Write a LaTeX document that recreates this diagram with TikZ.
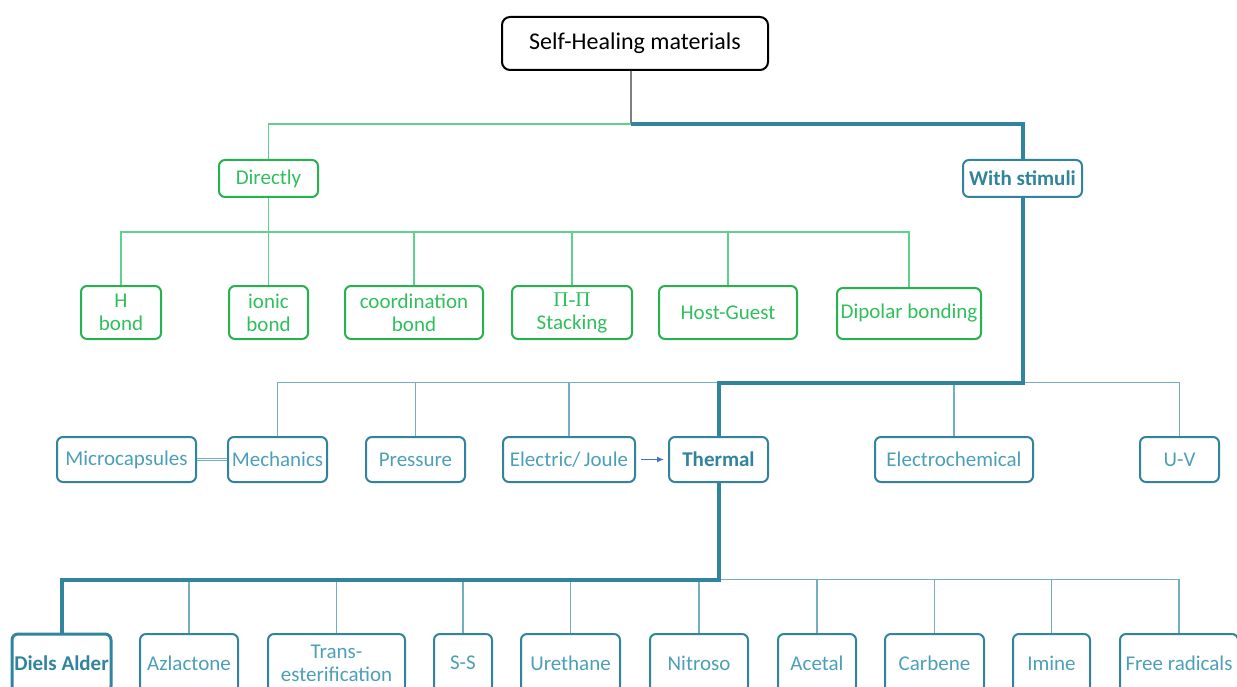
\documentclass[tikz,border=0pt]{standalone}
\usepackage{fontspec}
\setmainfont{Carlito}
\newfontfamily\pifont{Liberation Serif}
\usetikzlibrary{arrows.meta}
\definecolor{gborder}{HTML}{25B24F}
\definecolor{gtext}{HTML}{2FBF5B}
\definecolor{gline}{HTML}{5ED18A}
\definecolor{bborder}{HTML}{31849B}
\definecolor{btext}{HTML}{4C9FB8}
\definecolor{bline}{HTML}{72AFC3}
\definecolor{arrblue}{HTML}{4472C4}
\definecolor{grayline}{HTML}{7F7F7F}
\tikzset{
  basebox/.style={rounded corners=6pt, line width=2pt, inner sep=1pt, align=center,
    font=\fontsize{21}{23}\selectfont},
  titlebox/.style={basebox, draw=black, rounded corners=8pt, font=\fontsize{24}{28}\selectfont, text=black},
  gbox/.style={basebox, draw=gborder, text=gtext},
  bbox/.style={basebox, draw=bborder, text=btext},
  bboldbox/.style={basebox, draw=bborder, text=bborder, font=\fontsize{21}{23}\selectfont\bfseries},
  glink/.style={draw=gline, line width=1.4pt},
  blink/.style={draw=bline, line width=1.4pt},
  bthick/.style={draw=bborder, line width=4pt},
  graylink/.style={draw=grayline, line width=1.6pt},
}
\begin{document}
\begin{tikzpicture}[x=1pt,y=-1pt]
\useasboundingbox (0,0) rectangle (1237,687);
\clip (0,0) rectangle (1237,687);
% nodes
\node[titlebox, minimum width=266, minimum height=53] (top) at (635,43.5) {\raisebox{-2pt}{Self-Healing materials}};
\node[gbox, minimum width=99, minimum height=37] (dir) at (268.5,178.5) {Directly};
\node[bboldbox, minimum width=119, minimum height=37] (ws) at (1022.5,178.5) {With stimuli};
% green row
\node[gbox, minimum width=80, minimum height=53] (hb) at (121,312.5) {H\\bond};
\node[gbox, minimum width=79, minimum height=53] (ib) at (268.5,312.5) {ionic\\bond};
\node[gbox, minimum width=138, minimum height=53] (cb) at (414,312.5) {coordination\\bond};
\node[gbox, minimum width=120, minimum height=53] (pp) at (572,312.5) {{\pifont Π-Π}\\Stacking};
\node[gbox, minimum width=138, minimum height=53] (hg) at (728,312.5) {Host-Guest};
\node[gbox, minimum width=144, minimum height=51] (dp) at (909,313.5) {Dipolar bonding};
% middle row
\node[bbox, minimum width=139, minimum height=45] (mc) at (126.5,459.5) {Microcapsules};
\node[bbox, minimum width=99, minimum height=45] (mech) at (277.5,459.5) {Mechanics};
\node[bbox, minimum width=99, minimum height=45] (pr) at (415.5,459.5) {Pressure};
\node[bbox, minimum width=132, minimum height=45] (ej) at (569,459.5) {Electric/\,Joule};
\node[bboldbox, minimum width=99, minimum height=45] (th) at (718.5,459.5) {Thermal};
\node[bbox, minimum width=158, minimum height=45] (ec) at (954,459.5) {Electrochemical};
\node[bbox, minimum width=79, minimum height=45] (uv) at (1179.5,459.5) {U-V};
% bottom row
\node[bboldbox, line width=3pt, minimum width=99, minimum height=58] (da) at (61.5,663) {Diels Alder};
\node[bbox, minimum width=98, minimum height=58] (az) at (189,663) {Azlactone};
\node[bbox, minimum width=137, minimum height=58] (te) at (336.5,663) {Trans-\\esterification};
\node[bbox, minimum width=58, minimum height=58] (ss) at (463,663) {S-S};
\node[bbox, minimum width=99, minimum height=58] (ur) at (570.5,663) {Urethane};
\node[bbox, minimum width=98, minimum height=58] (ni) at (699,663) {Nitroso};
\node[bbox, minimum width=78, minimum height=58] (ac) at (817,663) {Acetal};
\node[bbox, minimum width=99, minimum height=58] (ca) at (934.5,663) {Carbene};
\node[bbox, minimum width=77, minimum height=58] (im) at (1051.5,663) {Imine};
\node[bbox, minimum width=118, minimum height=58] (fr) at (1179,663) {Free radicals};
% junctions
\coordinate (j1) at (631,124);
\coordinate (g1) at (268.5,232);
\coordinate (b1) at (1022.5,382.5);
\coordinate (c1) at (718.5,579.5);
% top level
\draw[graylink] (j1 |- top.south) -- (j1);
\draw[glink] (j1) -| (dir.north);
% green children
\draw[glink] (dir.south) -- (g1);
\foreach \n in {hb,ib,cb,pp,hg,dp} { \draw[glink] (g1) -| (\n.north); }
% middle level thin
\foreach \n in {mech,pr,ej,ec,uv} { \draw[blink] (b1) -| (\n.north); }
% bottom level thin
\foreach \n in {az,te,ss,ur,ni,ac,ca,im,fr} { \draw[blink] (c1) -| (\n.north); }
% thick highlighted path
\draw[bthick] (j1) -| (ws.north);
\draw[bthick] (ws.south) -- (b1) -| (th.north);
\draw[bthick] (th.south) -- (c1) -| (da.north);
% side links
\draw[draw=bline, line width=0.8pt, double=white, double distance=1.2pt] (mc.east) -- (mech.west);
\draw[draw=arrblue, line width=1.2pt, -{Latex[length=7pt,width=6pt]}, shorten <=5pt, shorten >=4pt] (ej.east) -- (th.west);
\end{tikzpicture}
\end{document}
